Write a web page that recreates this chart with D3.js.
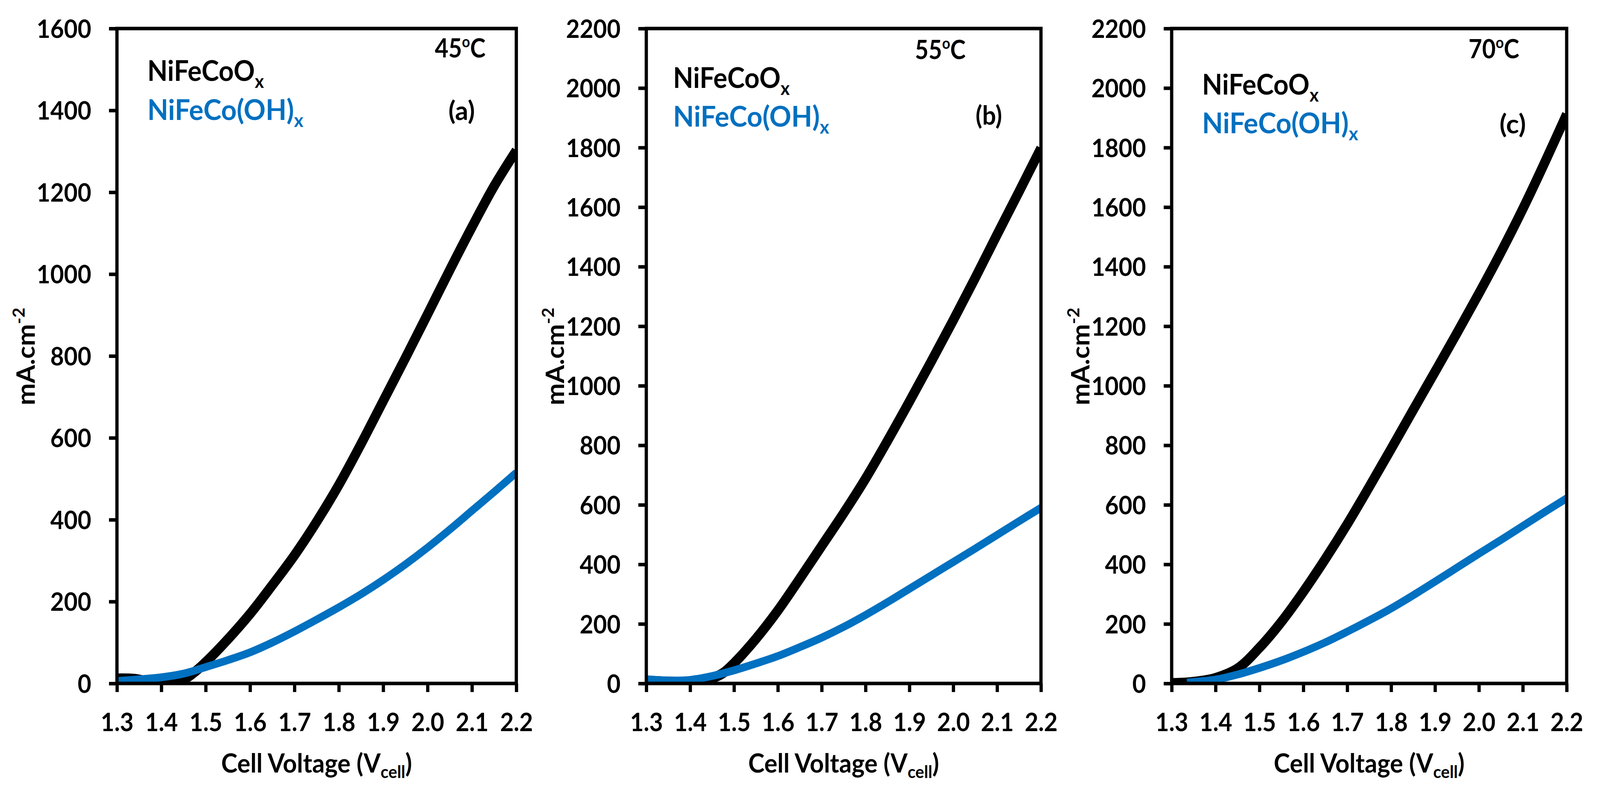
<!DOCTYPE html>
<html>
<head>
<meta charset="utf-8">
<script src="https://cdn.jsdelivr.net/npm/d3@7"></script>
<style>
html,body{margin:0;padding:0;background:#ffffff;overflow:hidden;width:100%;height:100%;}
svg{display:block;width:100vw;height:100vh;}
text{font-family:Lato,"Open Sans",sans-serif;font-weight:700;}
</style>
</head>
<body>
<svg id="chart" viewBox="0 0 4419 2037" preserveAspectRatio="none"></svg>
<script>
// ---------------- data ----------------
const xTickValues = [1.3, 1.4, 1.5, 1.6, 1.7, 1.8, 1.9, 2.0, 2.1, 2.2];
const yTicksA = [0, 200, 400, 600, 800, 1000, 1200, 1400, 1600];
const yTicksBC = [0, 200, 400, 600, 800, 1000, 1200, 1400, 1600, 1800, 2000, 2200];
const panelTags = ["(a)", "(b)", "(c)"];
const temperatures = ["45", "55", "70"];
const seriesOxide = "NiFeCoO";
const seriesHydroxide = "NiFeCo(OH)";
const xTitle = "Cell Voltage (V";
const yTitle = "mA.cm";

// Panel (a) 45 °C
const vOxideA = [1.30,1.34,1.37,1.40,1.45,1.475,1.50,1.55,1.60,1.65,1.70,1.75,1.80,1.85,1.90,1.95,2.00,2.05,2.10,2.15,2.20];
const jOxideA = [12,11,5,3,10,28,52,108,170,240,313,395,485,585,690,795,902,1010,1115,1215,1302];
const vHydroxA = [1.30,1.35,1.40,1.45,1.50,1.55,1.60,1.65,1.70,1.75,1.80,1.85,1.90,1.95,2.00,2.05,2.10,2.15,2.20];
const jHydroxA = [6,10,15,24,40,57,76,100,127,156,186,218,253,291,332,376,422,468,515];

// Panel (b) 55 °C
const vOxideB = [1.30,1.35,1.40,1.45,1.475,1.50,1.55,1.60,1.65,1.70,1.75,1.80,1.85,1.90,1.95,2.00,2.05,2.10,2.15,2.20];
const jOxideB = [10,6,6,18,35,68,150,245,352,462,572,688,815,947,1082,1220,1362,1508,1652,1798];
const vHydroxB = [1.30,1.35,1.40,1.45,1.50,1.55,1.60,1.65,1.70,1.75,1.80,1.85,1.90,1.95,2.00,2.05,2.10,2.15,2.20];
const jHydroxB = [14,10,12,25,44,67,92,122,154,190,230,273,318,363,408,453,499,545,590];

// Panel (c) 70 °C
const vOxideC = [1.30,1.335,1.37,1.40,1.45,1.50,1.55,1.60,1.65,1.70,1.75,1.80,1.85,1.90,1.95,2.00,2.05,2.10,2.15,2.20];
const jOxideC = [1,3,9,18,50,120,207,308,418,535,660,788,918,1047,1177,1310,1448,1594,1750,1912];
const vHydroxC = [1.335,1.35,1.40,1.45,1.50,1.55,1.60,1.65,1.70,1.75,1.80,1.85,1.90,1.95,2.00,2.05,2.10,2.15,2.20];
const jHydroxC = [3,5,13,30,52,77,106,138,174,212,252,296,342,389,436,482,529,576,622];

// ---------------- layout ----------------
const TOP = 73, BOTTOM = 1749;
const BLACK = "#000000", BLUE = "#0070C0";
const panels = [
  {left:323,  right:1426, yMax:1600, yTicks:yTicksA,  ox:vOxideA, oy:jOxideA, hx:vHydroxA, hy:jHydroxA,
   legX:407,  leg1:207, leg2:307, tempR:1341, tempB:147, tagX:1275, tagB:307},
  {left:1785, right:2875, yMax:2200, yTicks:yTicksBC, ox:vOxideB, oy:jOxideB, hx:vHydroxB, hy:jHydroxB,
   legX:1859, leg1:225, leg2:324, tempR:2667, tempB:151, tagX:2731, tagB:319},
  {left:3236, right:4327, yMax:2200, yTicks:yTicksBC, ox:vOxideC, oy:jOxideC, hx:vHydroxC, hy:jHydroxC,
   legX:3320, leg1:242, leg2:341, tempR:4196, tempB:149, tagX:4178, tagB:341}
];

const svg = d3.select("#chart");
svg.append("rect").attr("width",4419).attr("height",2037).attr("fill","#fff");

function fitX(sel, target, ax, ay) {
  const w = sel.node().getBBox().width;
  const s = target / w;
  sel.attr("transform", `translate(${ax},${ay}) scale(${s},1) translate(${-ax},${-ay})`);
}

panels.forEach((p, i) => {
  const x = d3.scaleLinear().domain([1.3, 2.2]).range([p.left, p.right]);
  const y = d3.scaleLinear().domain([0, p.yMax]).range([BOTTOM, TOP]);
  const g = svg.append("g");

  const clipId = "clip" + i;
  g.append("clipPath").attr("id", clipId).append("rect")
    .attr("x", p.left).attr("y", TOP).attr("width", p.right - p.left).attr("height", BOTTOM - TOP);

  const line = d3.line().x(d => x(d[0])).y(d => y(d[1])).curve(d3.curveCatmullRom.alpha(0.5));
  const lines = g.append("g").attr("clip-path", `url(#${clipId})`);
  lines.append("path").datum(d3.zip(p.ox, p.oy)).attr("d", line)
    .attr("fill","none").attr("stroke",BLACK).attr("stroke-width",26).attr("stroke-linejoin","round");
  lines.append("path").datum(d3.zip(p.hx, p.hy)).attr("d", line)
    .attr("fill","none").attr("stroke",BLUE).attr("stroke-width",20).attr("stroke-linejoin","round");

  // axes
  const yAxis = d3.axisLeft(y).tickValues(p.yTicks).tickSize(22).tickSizeOuter(0).tickPadding(49).tickFormat(d3.format("d"));
  const ya = g.append("g").attr("transform", `translate(${p.left},0)`).call(yAxis);
  const xAxis = d3.axisBottom(x).tickValues(xTickValues).tickSize(22).tickSizeOuter(0).tickPadding(54).tickFormat(d3.format(".1f"));
  const xa = g.append("g").attr("transform", `translate(0,${BOTTOM})`).call(xAxis);
  [ya, xa].forEach(a => {
    a.select(".domain").remove();
    a.selectAll(".tick line").attr("stroke", BLACK).attr("stroke-width", 9);
    a.selectAll(".tick text").attr("font-size", 65).attr("fill", BLACK)
      .style("font-family", "Lato, 'Open Sans', sans-serif").style("font-weight", 700);
  });
  ya.selectAll(".tick text").attr("dy", "0.36em");

  // frame
  g.append("rect").attr("x", p.left).attr("y", TOP).attr("width", p.right - p.left).attr("height", BOTTOM - TOP)
    .attr("fill","none").attr("stroke",BLACK).attr("stroke-width",9);

  // legend text
  const t1 = g.append("text").attr("x", p.legX).attr("y", p.leg1).attr("font-size", 72).attr("fill", BLACK);
  t1.append("tspan").text(seriesOxide);
  t1.append("tspan").attr("font-size", 48).attr("dy", 18).text("x");
  fitX(t1, 323, p.legX, p.leg1);

  const t2 = g.append("text").attr("x", p.legX).attr("y", p.leg2).attr("font-size", 72).attr("fill", BLUE);
  t2.append("tspan").text(seriesHydroxide);
  t2.append("tspan").attr("font-size", 48).attr("dy", 18).text("x");
  fitX(t2, 432, p.legX, p.leg2);

  // temperature
  const tt = g.append("text").attr("x", p.tempR).attr("y", p.tempB).attr("font-size", 66)
    .attr("text-anchor","end").attr("fill", BLACK);
  tt.append("tspan").text(temperatures[i]);
  tt.append("tspan").attr("font-size", 40).attr("dy", -26).text("o");
  tt.append("tspan").attr("dy", 26).text("C");
  fitX(tt, 140, p.tempR, p.tempB);

  // panel tag
  const tg = g.append("text").attr("x", p.tagX).attr("y", p.tagB).attr("font-size", 66)
    .attr("text-anchor","middle").attr("fill", BLACK).text(panelTags[i]);
  fitX(tg, 73, p.tagX, p.tagB);

  // x title
  const xtX = (p.left + p.right) / 2, xtY = 1977;
  const xt = g.append("text").attr("x", xtX).attr("y", xtY).attr("font-size", 66)
    .attr("text-anchor","middle").attr("fill", BLACK);
  xt.append("tspan").text(xTitle);
  xt.append("tspan").attr("font-size", 44).attr("dy", 14).text("cell");
  xt.append("tspan").attr("dy", -14).text(")");
  fitX(xt, 527, xtX, xtY);

  // y title
  const ytX = p.left - 227, ytY = 912;
  const yt = g.append("text").attr("x", 0).attr("y", 0).attr("font-size", 70)
    .attr("text-anchor","middle").attr("fill", BLACK);
  yt.append("tspan").text(yTitle);
  yt.append("tspan").attr("font-size", 46).attr("dy", -28).text("-2");
  const w = yt.node().getBBox().width;
  yt.attr("transform", `translate(${ytX},${ytY}) rotate(-90) scale(${250 / w},1)`);
});
</script>
</body>
</html>
